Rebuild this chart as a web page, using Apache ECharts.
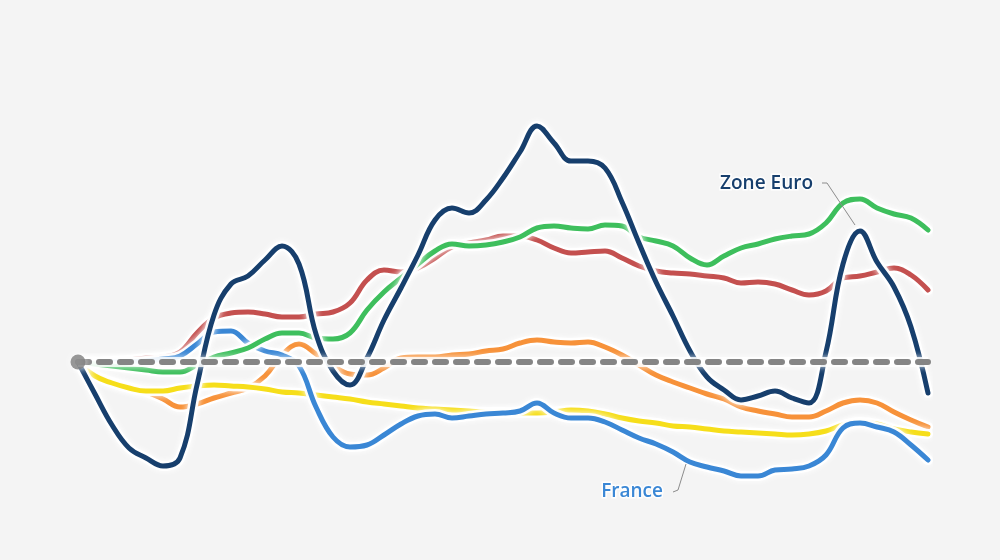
<!DOCTYPE html>
<html>
<head>
<meta charset="utf-8">
<script src="https://cdn.jsdelivr.net/npm/echarts@6/dist/echarts.min.js"></script>
<style>
html,body{margin:0;padding:0;background:#f4f4f4;}
#c{width:1000px;height:560px;}
</style>
</head>
<body>
<div id="c"></div>
<script>
// 51 evenly spaced periods; values are deviations from the common starting level (0)
const periods = Array.from({length: 51}, (_, i) => 'P' + (i + 1));

const zoneEuro = [0,-32,-63,-86,-96,-104,-96,-23,47,78,86,102,116,98,28,-9,-23,4,42,74,107,142,154,149,162,184,210,236,219,201,201,194,160,119,80,46,11,-15,-28,-38,-34,-29,-36,-41,10,98,131,100,75,35,-31];
const redSeries = [0,0,1,2,4,5,10,29,44,49,50,48,45,45,48,50,59,82,92,90,94,104,115,119,122,126,126,122,114,109,110,111,104,96,91,89,88,86,84,79,80,78,72,67,71,84,86,90,94,87,72];
const greenSeries = [0,-2,-4,-6,-8,-10,-10,-3,5,9,14,23,29,29,24,23,29,52,70,84,98,111,118,116,117,120,125,134,136,134,133,137,136,125,121,116,104,97,106,114,118,123,126,128,139,159,163,154,148,144,132];
const orangeSeries = [0,-13,-20,-25,-30,-37,-45,-42,-36,-31,-26,-14,7,18,8,-4,-12,-13,-6,4,5,5,7,8,11,13,19,22,20,19,20,15,7,-3,-13,-20,-26,-32,-37,-45,-49,-52,-55,-55,-49,-41,-38,-41,-50,-58,-65];
const yellowSeries = [0,-14,-21,-26,-29,-29,-26,-24,-23,-24,-25,-27,-30,-31,-33,-35,-37,-40,-42,-44,-46,-47,-48,-49,-50,-50,-51,-51,-50,-48,-49,-52,-56,-59,-61,-64,-65,-67,-69,-70,-71,-72,-73,-72,-69,-63,-60,-62,-67,-70,-72];
const france = [0,0,0,0,1,3,6,18,30,31,19,11,7,-4,-45,-75,-85,-83,-73,-62,-54,-52,-56,-54,-52,-51,-49,-41,-51,-56,-56,-60,-68,-76,-82,-90,-100,-105,-109,-114,-114,-108,-107,-104,-93,-66,-61,-65,-70,-83,-98];
const baseline = periods.map(() => 0);

const labelEuro = 'Zone Euro';
const labelFrance = 'France';

function lineWithHalo(name, data, color, level) {
  const common = { type: 'line', data: data, smooth: 0.4, showSymbol: false, symbol: 'none',
    emphasis: { disabled: true }, silent: true };
  return [
    Object.assign({}, common, { name: name + '-halo', z: level * 2,
      lineStyle: { color: 'rgba(255,255,255,0.95)', width: 10, cap: 'round', join: 'round',
        shadowColor: 'rgba(255,255,255,1)', shadowBlur: 6 } }),
    Object.assign({}, common, { name: name, z: level * 2 + 1,
      lineStyle: { color: color, width: 5, cap: 'round', join: 'round' } })
  ];
}

const chart = echarts.init(document.getElementById('c'), null, {renderer: 'canvas'});
const option = {
  backgroundColor: '#f4f4f4',
  animation: false,
  grid: { left: 78, right: 72, top: 0, bottom: 0 },
  xAxis: { type: 'category', data: periods, boundaryGap: false, show: false },
  yAxis: { type: 'value', min: -198, max: 362, show: false },
  series: [].concat(
    lineWithHalo('Rouge', redSeries, '#c4504f', 1),
    lineWithHalo('Orange', orangeSeries, '#f7923a', 2),
    lineWithHalo('Jaune', yellowSeries, '#f6de1a', 3),
    lineWithHalo(labelFrance, france, '#3a87d5', 4),
    lineWithHalo('Vert', greenSeries, '#3ebf5d', 5),
    lineWithHalo(labelEuro, zoneEuro, '#173f6d', 6),
    [
      {
        name: 'base-halo', type: 'line', data: baseline, showSymbol: false, symbol: 'none', z: 14,
        lineStyle: { color: 'rgba(255,255,255,0.8)', width: 10, shadowColor: 'rgba(255,255,255,1)', shadowBlur: 6 },
        silent: true
      },
      {
        name: 'base', type: 'line', data: baseline, showSymbol: false, symbol: 'none', z: 15,
        lineStyle: { color: '#858585', width: 6, type: [11, 10], cap: 'round' },
        silent: true
      },
      {
        name: 'origin', type: 'scatter', data: [[0, baseline[0]]], symbolSize: 15, z: 16,
        itemStyle: { color: '#7d7d7d', shadowColor: 'rgba(255,255,255,1)', shadowBlur: 10 },
        silent: true
      }
    ]
  )
};
chart.setOption(option);

const pE = chart.convertToPixel({gridIndex: 0}, [46, zoneEuro[46]]);
const pF = chart.convertToPixel({gridIndex: 0}, [36, france[36]]);

const textStyleBase = { font: '600 19px "Open Sans", sans-serif', textAlign: 'right', textVerticalAlign: 'middle',
  stroke: 'rgba(255,255,255,0.9)', lineWidth: 3 };

chart.setOption({
  graphic: [
    { type: 'polyline', z: 20, shape: { points: [[pE[0]-38, pE[1]-48], [pE[0]-33, pE[1]-48], [pE[0]-5, pE[1]-6]] },
      style: { stroke: '#8c8c8c', lineWidth: 1, fill: null } },
    { type: 'text', z: 20, x: pE[0]-47, y: pE[1]-47,
      style: Object.assign({}, textStyleBase, { text: labelEuro, fill: '#173f6d' }) },
    { type: 'polyline', z: 20, shape: { points: [[pF[0]-17, pF[1]+30], [pF[0]-12, pF[1]+28], [pF[0]-4, pF[1]+2]] },
      style: { stroke: '#8c8c8c', lineWidth: 1, fill: null } },
    { type: 'text', z: 20, x: pF[0]-27, y: pF[1]+30,
      style: Object.assign({}, textStyleBase, { text: labelFrance, fill: '#3a87d5' }) }
  ]
});
</script>
</body>
</html>
